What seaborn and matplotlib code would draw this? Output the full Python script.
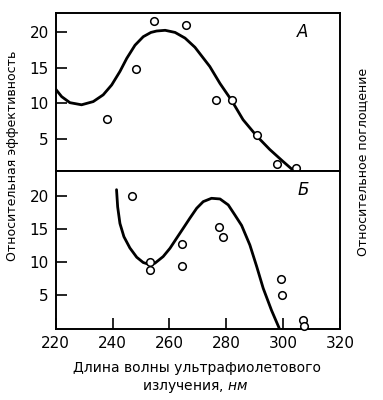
import matplotlib
matplotlib.use("Agg")
import matplotlib.pyplot as plt
import seaborn as sns
import pandas as pd

# длина волны (нм) и относительная эффективность, кривая А
curve_a_x = [219.8, 222.1, 225.0, 229.1, 233.2, 236.7, 239.7, 242.6, 245.0, 247.9, 250.8,
             253.5, 255.5, 258.5, 262.0, 265.5, 269.0, 274.2, 277.8, 281.9, 285.9, 290.7,
             295.3, 300.0, 303.0, 304.5]
curve_a_y = [12.1, 10.95, 10.1, 9.8, 10.25, 11.2, 12.6, 14.5, 16.35, 18.2, 19.4,
             20.0, 20.2, 20.3, 20.0, 19.2, 17.9, 15.2, 12.8, 10.4, 7.7, 5.4,
             3.5, 1.8, 0.75, 0.45]
# точки А
pts_a_x = [237.9, 248.2, 254.7, 265.8, 276.3, 281.9, 290.7, 297.9, 304.4]
pts_a_y = [7.8, 14.9, 21.6, 21.0, 10.5, 10.5, 5.5, 1.45, 0.95]

# кривая Б
curve_b_x = [241.4, 241.8, 242.6, 244.0, 246.1, 248.5, 250.8, 253.0, 254.9, 257.8, 260.2,
             262.5, 264.9, 267.2, 269.6, 271.9, 274.8, 277.8, 280.7, 283.0, 285.4, 288.3,
             290.7, 293.0, 295.9, 298.6]
curve_b_y = [20.9, 18.3, 15.8, 13.8, 12.1, 10.7, 9.9, 9.6, 9.8, 10.8, 12.05,
             13.55, 15.1, 16.6, 18.1, 19.1, 19.6, 19.5, 18.6, 17.1, 15.5, 12.55,
             9.3, 6.0, 2.7, 0.0]
# точки Б
pts_b_x = [246.7, 253.1, 253.1, 264.5, 264.5, 277.4, 278.7, 299.1, 299.6, 307.0, 307.3]
pts_b_y = [20.0, 10.0, 8.8, 12.7, 9.4, 15.2, 13.7, 7.4, 5.05, 1.2, 0.3]

x_ticks = [220, 240, 260, 280, 300, 320]
y_ticks = [5, 10, 15, 20]

sns.set_style("white")
plt.rcParams['font.family'] = ['DejaVu Sans']
plt.rcParams['text.color'] = 'black'
plt.rcParams['xtick.color'] = 'black'
plt.rcParams['ytick.color'] = 'black'

fig = plt.figure(figsize=(3.83, 4.0), dpi=100)
ax1 = fig.add_axes([0.1454, 0.5713, 0.7423, 0.3955])
ax2 = fig.add_axes([0.1454, 0.1768, 0.7423, 0.3945])

panels = [
    (ax1, curve_a_x, curve_a_y, pts_a_x, pts_a_y, "А", (0.4, 22.7)),
    (ax2, curve_b_x, curve_b_y, pts_b_x, pts_b_y, "Б", (-0.18, 23.65)),
]
for ax, cx, cy, px, py, letter, ylim in panels:
    cdf = pd.DataFrame({"x": cx, "y": cy})
    pdf = pd.DataFrame({"x": px, "y": py})
    sns.lineplot(data=cdf, x="x", y="y", sort=False, color="black", linewidth=2.0, ax=ax,
                 solid_joinstyle="round", solid_capstyle="round")
    sns.scatterplot(data=pdf, x="x", y="y", marker="o", s=30, facecolor="white",
                    edgecolor="black", linewidth=1.1, ax=ax, zorder=3, clip_on=False)
    ax.set_xlim(220, 320)
    ax.set_ylim(*ylim)
    ax.set_yticks(y_ticks)
    ax.set_ylabel("")
    ax.set_xlabel("")
    ax.tick_params(axis="y", direction="in", length=8, width=1.2, labelsize=11, pad=5,
                   left=True, right=False)
    for s in ax.spines.values():
        s.set_color("black")
        s.set_linewidth(1.4)
    ax.text(0.87, 0.88, letter, transform=ax.transAxes, fontsize=12, style="italic",
            ha="center", va="center")

ax1.set_xticks([])
ax2.set_xticks(x_ticks)
ax2.set_xticklabels([str(t) for t in x_ticks])
ax2.tick_params(axis="x", direction="in", length=8, width=1.2, labelsize=11, pad=5,
                bottom=True, top=False)

fig.text(0.032, 0.61, "Относительная эффективность", rotation=90, fontsize=9,
         ha="center", va="center")
fig.text(0.948, 0.595, "Относительное поглощение", rotation=90, fontsize=9,
         ha="center", va="center")
fig.text(0.515, 0.080, "Длина волны ультрафиолетового", fontsize=10,
         ha="center", va="center")
fig.text(0.51, 0.032, r"излучения, $\mathit{нм}$", fontsize=10,
         ha="center", va="center")

fig.savefig("out.png", dpi=100)
